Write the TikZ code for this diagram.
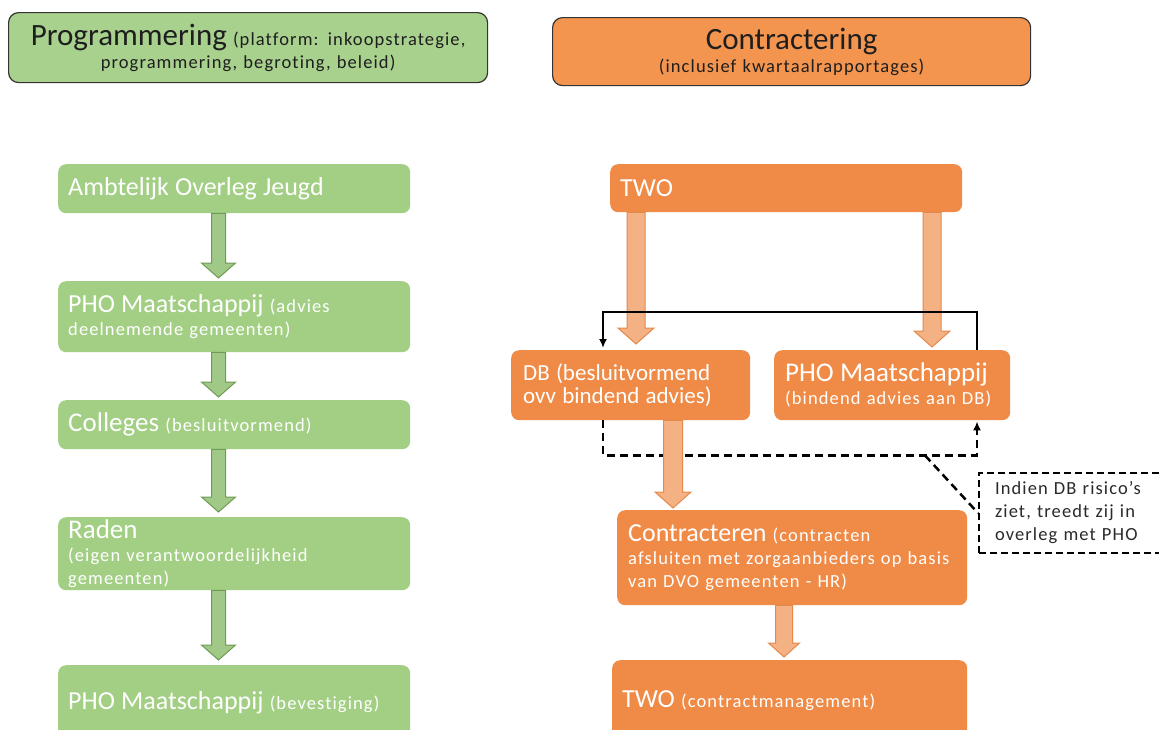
\documentclass[tikz,border=0pt]{standalone}
\usepackage{fontspec}
\setmainfont{Carlito}[Ligatures=NoCommon]
\newfontfamily\spacedfont[LetterSpace=6,Ligatures=NoCommon]{Carlito}
\usetikzlibrary{calc,arrows.meta}
\definecolor{gbox}{HTML}{A3CF85}
\definecolor{ghead}{HTML}{A9D18E}
\definecolor{obox}{HTML}{EF8B46}
\definecolor{ohead}{HTML}{F4954F}
\definecolor{oarrow}{HTML}{F4B183}
\definecolor{oarrowline}{HTML}{E5894A}
\definecolor{garrow}{HTML}{A0C886}
\definecolor{garrowline}{HTML}{6F9A55}
\definecolor{headtext}{HTML}{1E1E1E}
\definecolor{notetext}{HTML}{2A2A2A}
\newcommand\smallsz{\spacedfont\fontsize{18.5}{23}\selectfont}
\newcommand\bigsz{\rmfamily\fontsize{26}{30}\selectfont}
\newcommand\biggsz{\rmfamily\fontsize{27}{30}\selectfont}
\newcommand\dbsz{\rmfamily\fontsize{23}{24}\selectfont}
\newcommand\headsz{\rmfamily\fontsize{31}{34}\selectfont}
% block arrow: style, start, end, shaft half width, head half width, head length
\newcommand\blockarrow[6]{%
  \path[#1] let \p1=(#2), \p2=(#3) in
    (\x1-#4,\y1) -- (\x1+#4,\y1) -- (\x1+#4,\y2+#6) -- (\x1+#5,\y2+#6)
    -- (\x1,\y2) -- (\x1-#5,\y2+#6) -- (\x1-#4,\y2+#6) -- cycle;}
\begin{document}
\begin{tikzpicture}[x=1pt,y=-1pt,
  box/.style={rounded corners=8pt, inner xsep=10pt, inner ysep=0pt, align=left,
    anchor=north west, text=white, font=\smallsz},
  gbx/.style={box, fill=gbox},
  obx/.style={box, fill=obox},
  head/.style={rounded corners=10pt, draw=black!80, line width=1.2pt, inner xsep=10pt,
    inner ysep=0pt, align=center, anchor=north west, text=headtext, font=\smallsz},
  note/.style={draw=black, dashed, dash pattern=on 7pt off 4pt, line width=2pt, fill=white,
    inner xsep=16pt, inner ysep=0pt, align=left, anchor=north west, text=notetext, font=\smallsz},
  garr/.style={fill=garrow, draw=garrowline, line width=1pt},
  oarr/.style={fill=oarrow, draw=oarrowline, line width=1pt},
  solidconn/.style={draw=black, line width=2pt, -{Latex[length=9pt,width=8pt]}},
  dashconn/.style={draw=black, line width=2.5pt, dash pattern=on 8pt off 5pt},
  dasharrow/.style={dashconn, -{Latex[length=9pt,width=8pt]}}]
\clip (0,0) rectangle (1159,729);
\fill[white] (0,0) rectangle (1159,729);

% headers
\node[head, fill=ghead, text width=459pt, minimum height=70pt] (h1) at (8,12)
  {{\headsz Programmering} (platform: inkoopstrategie,\\programmering, begroting, beleid)};
\node[head, fill=ohead, text width=458pt, minimum height=68pt] (h2) at (552,17)
  {{\headsz Contractering}\\(inclusief kwartaalrapportages)};

% left column
\node[gbx, text width=332pt, minimum height=49pt] (aoj) at (58,164) {{\bigsz Ambtelijk Overleg Jeugd}};
\node[gbx, text width=332pt, minimum height=71pt] (pho1) at (58,281) {{\bigsz PHO Maatschappij} (advies\\deelnemende gemeenten)};
\node[gbx, text width=332pt, minimum height=49pt] (col) at (58,400) {{\biggsz Colleges} (besluitvormend)};
\node[gbx, text width=332pt, minimum height=73pt] (raden) at (58,517) {{\biggsz Raden}\\(eigen verantwoordelijkheid\\gemeenten)};
\node[gbx, text width=332pt, minimum height=75pt] (pho2) at (58,665) {{\bigsz PHO Maatschappij} (bevestiging)};

% right column
\node[obx, text width=332pt, minimum height=48pt] (two) at (610,164) {{\bigsz TWO}};
\node[obx, inner xsep=12pt, text width=215pt, minimum height=70pt] (db) at (511,350) {\dbsz DB (besluitvormend\\ovv bindend advies)};
\node[obx, inner xsep=11pt, text width=214pt, minimum height=70pt] (pho3) at (774,350) {{\biggsz PHO Maatschappij}\\(bindend advies aan DB)};
\node[obx, inner xsep=11pt, text width=328pt, minimum height=95pt] (contr) at (617,510) {{\bigsz Contracteren} (contracten\\afsluiten met zorgaanbieders op basis\\van DVO gemeenten - HR)};
\node[obx, text width=335pt, minimum height=80pt] (two2) at (612,660) {{\bigsz TWO} (contractmanagement)};

% note
\node[note, text width=150pt, minimum height=80pt] (note) at (978,472) {Indien DB risico’s\\ziet, treedt zij in\\overleg met PHO};

% x positions
\coordinate (xg) at (218.5,0);
\coordinate (xo1) at (636,0);
\coordinate (xo2) at (932,0);
\coordinate (xo3) at (673,0);
\coordinate (xo4) at (784,0);
\coordinate (xl) at (603,0);
\coordinate (xr) at (977,0);

% dashed connector
\draw[dasharrow] (db.south -| xl) -- ++(0,35) -| ($(pho3.south -| xr)+(0,1)$);
\coordinate (dj) at ($(db.south -| xl)+(322,35)$);
\draw[dashconn] (dj) -- (note.west);

% block arrows
\blockarrow{garr}{aoj.south -| xg}{$(pho1.north -| xg)+(0,-3)$}{7pt}{17pt}{15pt}
\blockarrow{garr}{pho1.south -| xg}{$(col.north -| xg)+(0,-3)$}{7pt}{17pt}{15pt}
\blockarrow{garr}{col.south -| xg}{$(raden.north -| xg)+(0,-5)$}{7pt}{17pt}{15pt}
\blockarrow{garr}{raden.south -| xg}{$(pho2.north -| xg)+(0,-5)$}{7pt}{17pt}{15pt}
\blockarrow{oarr}{two.south -| xo1}{$(db.north -| xo1)+(0,-6)$}{9pt}{18pt}{16pt}
\blockarrow{oarr}{two.south -| xo2}{$(pho3.north -| xo2)+(0,-3)$}{9pt}{18pt}{16pt}
\blockarrow{oarr}{db.south -| xo3}{$(contr.north -| xo3)+(0,-2)$}{9.5pt}{18pt}{16pt}
\blockarrow{oarr}{contr.south -| xo4}{$(two2.north -| xo4)+(0,-3)$}{8.5pt}{15.5pt}{14pt}

% solid connector
\draw[solidconn] (pho3.north -| xr) -- ++(0,-38) -| ($(db.north -| xl)+(0,-2)$);
\end{tikzpicture}
\end{document}
